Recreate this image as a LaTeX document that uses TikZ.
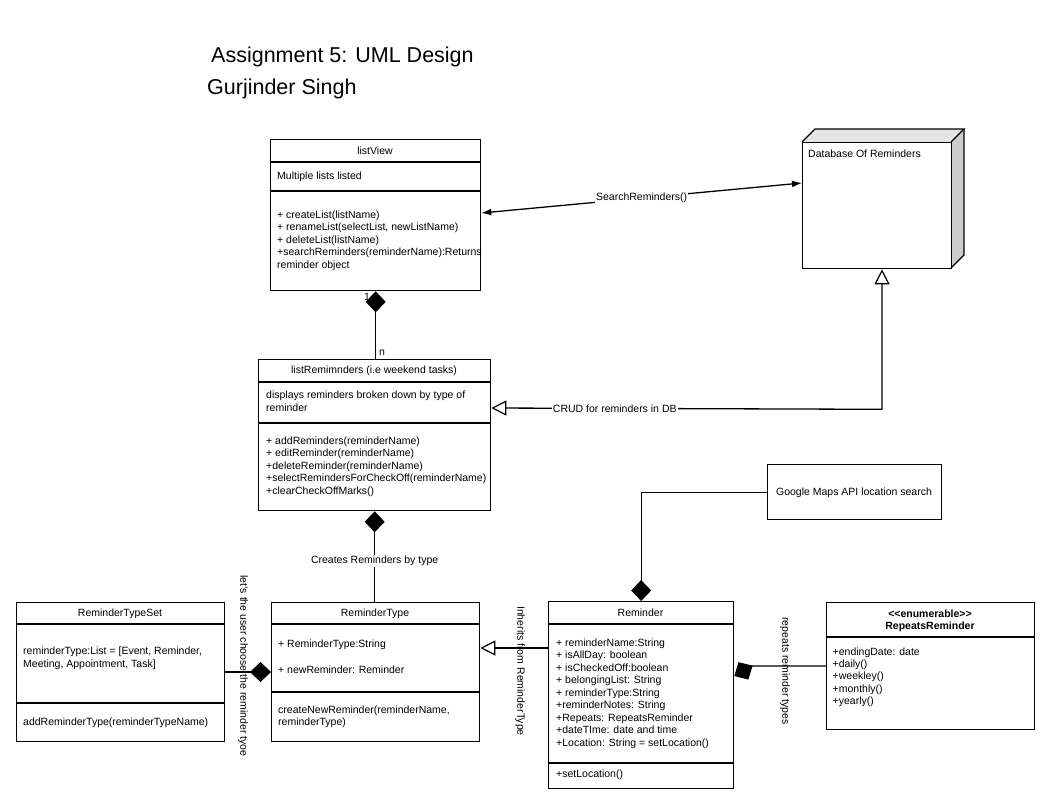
\documentclass[tikz,border=0pt]{standalone}
\usepackage{fontspec}
\setmainfont{Liberation Sans}
\usetikzlibrary{arrows.meta,calc}
\begin{document}
\begin{tikzpicture}[x=1pt,y=-1pt,
  box/.style={draw=black, line width=1.3pt, anchor=north west, inner sep=0pt},
  sep/.style={line width=1.3pt},
  txt/.style={anchor=base west, inner sep=0pt, font=\fontsize{10.5}{12.6}\selectfont},
  ctxt/.style={anchor=base, inner sep=0pt, font=\fontsize{10.5}{12.6}\selectfont},
  btxt/.style={anchor=base, inner sep=0pt, font=\fontsize{10.5}{12.6}\selectfont\bfseries},
  ttl/.style={anchor=base west, inner sep=0pt, font=\fontsize{21.5}{25}\selectfont},
  lbl/.style={fill=white, inner sep=1pt, font=\fontsize{10.5}{12.6}\selectfont},
  rlbl/.style={inner sep=0pt, rotate=-90, font=\fontsize{10.5}{12.6}\selectfont},
  conn/.style={line width=1.3pt},
  dia/.tip={Diamond[length=21pt,width=20pt]},
  tri/.tip={Triangle[open,length=15pt,width=15pt,line width=1.2pt]},
  arr/.tip={Latex[length=10pt,width=7pt]}
]
\useasboundingbox[fill=white] (0,0) rectangle (1052,796);

% Title
\node[ttl] (t1) at (211,62.5) {Assignment 5: UML Design};
\node[ttl] (t2) at (207,94) {Gurjinder Singh};

% listView
\node[box, minimum width=210pt, minimum height=151pt] (lv) at (270,139) {};
\draw[sep] (270,162) -- (480,162);
\draw[sep] (270,191) -- (480,191);
\node[ctxt] (lvt) at (375,154) {listView};
\node[txt] (lva) at (277,179) {Multiple lists listed};
\foreach \s [count=\i from 0] in {{+ createList(listName)},{+ renameList(selectList, newListName)},{+ deleteList(listName)},{+searchReminders(reminderName):Returns},{reminder object}}
  \node[txt] (lvm\i) at (277,218+12.6*\i) {\s};

% Database
\fill[gray!20] (802,142) -- (815,129) -- (964,129) -- (951,142) -- cycle;
\fill[gray!40] (951,142) -- (964,129) -- (964,255) -- (951,268) -- cycle;
\draw[sep] (802,142) -- (815,129) -- (964,129) -- (951,142);
\draw[sep] (964,129) -- (964,255) -- (951,268);
\node[box, minimum width=149pt, minimum height=126pt] (db) at (802,142) {};
\node[txt] (dbt) at (808,157) {Database Of Reminders};

% listRemimnders
\node[box, minimum width=232pt, minimum height=151pt] (lr) at (258,359) {};
\draw[sep] (258,382) -- (490,382);
\draw[sep] (258,423) -- (490,423);
\node[ctxt] (lrt) at (374,373.5) {listRemimnders (i.e weekend tasks)};
\node[txt] (lra1) at (266,398.5) {displays reminders broken down by type of};
\node[txt] (lra2) at (266,411) {reminder};
\foreach \s [count=\i from 0] in {{+ addReminders(reminderName)},{+ editReminder(reminderName)},{+deleteReminder(reminderName)},{+selectRemindersForCheckOff(reminderName)},{+clearCheckOffMarks()}}
  \node[txt] (lrm\i) at (266,444+12.5*\i) {\s};

% Google Maps
\node[box, minimum width=174pt, minimum height=55pt] (gm) at (767,464) {};
\node[ctxt] (gmt) at (854,495) {Google Maps API location search};

% ReminderTypeSet
\node[box, minimum width=208pt, minimum height=139pt] (rts) at (16,602) {};
\draw[sep] (16,624) -- (224,624);
\draw[sep] (16,703) -- (224,703);
\node[ctxt] (rtst) at (120,616.5) {ReminderTypeSet};
\node[txt] (rtsa1) at (23,654.5) {reminderType:List = [Event, Reminder,};
\node[txt] (rtsa2) at (23,667.8) {Meeting, Appointment, Task]};
\node[txt] (rtsm) at (23,725.5) {addReminderType(reminderTypeName)};

% ReminderType
\node[box, minimum width=208pt, minimum height=139pt] (rt) at (271,602) {};
\draw[sep] (271,624) -- (479,624);
\draw[sep] (271,692) -- (479,692);
\node[ctxt] (rtt) at (375,616.5) {ReminderType};
\node[txt] (rta1) at (278,647) {+ ReminderType:String};
\node[txt] (rta2) at (278,673) {+ newReminder: Reminder};
\node[txt] (rtm1) at (278,713) {createNewReminder(reminderName,};
\node[txt] (rtm2) at (278,725.5) {reminderType)};

% Reminder
\node[box, minimum width=185pt, minimum height=187pt] (rm) at (548,601) {};
\draw[sep] (548,624) -- (733,624);
\draw[sep] (548,763) -- (733,763);
\node[ctxt] (rmt) at (640.5,616.5) {Reminder};
\foreach \s [count=\i from 0] in {{+ reminderName:String},{+ isAllDay: boolean},{+ isCheckedOff:boolean},{+ belongingList: String},{+ reminderType:String},{+reminderNotes: String},{+Repeats: RepeatsReminder},{+dateTIme: date and time},{+Location: String = setLocation()}}
  \node[txt] (rma\i) at (556,646+12.5*\i) {\s};
\node[txt] (rmm) at (556,777) {+setLocation()};

% RepeatsReminder
\node[box, minimum width=208pt, minimum height=127pt] (rr) at (826,602) {};
\draw[sep] (826,637) -- (1034,637);
\node[btxt] (rrs) at (930,617.5) {<\kern0pt<enumerable>\kern0pt>};
\node[btxt] (rrt) at (930,629.5) {RepeatsReminder};
\foreach \s [count=\i from 0] in {{+endingDate: date},{+daily()},{+weekley()},{+monthly()},{+yearly()}}
  \node[txt] (rra\i) at (832.5,655+12.4*\i) {\s};

% Connectors
\draw[conn, arr-arr] ($(lv.north east)+(0,74)$) -- node[lbl] {SearchReminders()} ($(db.north west)+(0,41)$);
\draw[conn, tri-tri] ($(lr.north east)+(0,49)$) -- node[lbl, pos=0.316] {CRUD for reminders in DB} ($(db.south west)+(80,49+91)$) -- ($(db.south west)+(80,0)$);
\draw[conn, dia-] (lv.south) -- (lv.south |- lr.north);
\node[ctxt] (one) at (367,300) {1};
\node[ctxt] (nn) at (382,355) {n};
\draw[conn, dia-] (lr.south) -- node[lbl, pos=0.55] {Creates Reminders by type} (lr.south |- rt.north);
\draw[conn, -dia] ($(rts.north east)+(0,70)$) -- ($(rt.north west)+(0,70)$);
\node[rlbl] (lbl1) at (243,666) {let's the user choose the reminder tyoe};
\draw[conn, -tri] ($(rm.north west)+(0,47)$) -- ($(rt.north east)+(0,46)$);
\node[rlbl] (lbl2) at (520,671) {Inherits from ReminderType};
\draw[conn, -dia] (gm.west) -| (rm.north);
\draw[conn, -dia] ($(rr.north west)+(0,64)$) -- (752,666) -- ($(rm.north east)+(0,75)$);
\node[rlbl] (lbl3) at (785,671) {repeats reminder types};
\end{tikzpicture}
\end{document}
